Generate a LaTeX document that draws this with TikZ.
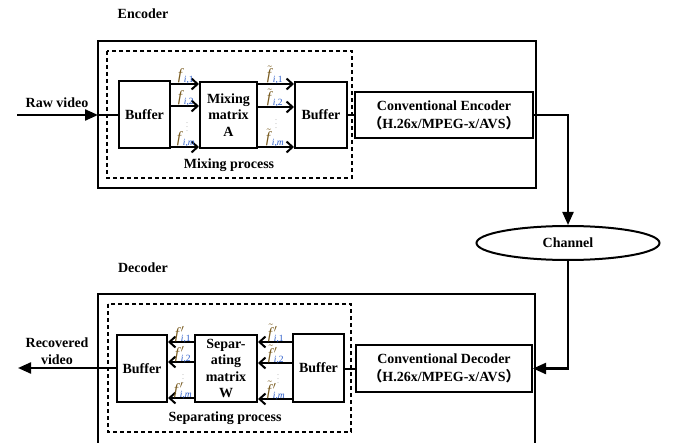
\documentclass[tikz,border=0pt]{standalone}
\usepackage{fontspec}
\setmainfont{Liberation Serif}
\newfontfamily\cjk{Noto Sans CJK SC}
\usetikzlibrary{arrows.meta,shapes.geometric,calc}
\definecolor{fcol}{RGB}{120,90,30}
\definecolor{scol}{RGB}{40,90,200}
\newcommand{\fsub}[1]{{\color{scol}\mbox{\fontsize{9.5}{9.5}\selectfont\textit{i},#1}}}
\newcommand{\ff}{{\color{fcol}\mbox{\textit{f}}}}
\newcommand{\fft}{{\color{fcol}\tilde{\mbox{\textit{f}}}}}
\newcommand{\pr}{{\color{fcol}\prime}}
\begin{document}
\begin{tikzpicture}[x=1pt,y=-1pt,line width=2pt,
  box/.style={draw,line width=2pt,align=center,inner sep=0pt,
    font=\bfseries\fontsize{14}{16.5}\selectfont},
  conv/.style={box,font=\bfseries\fontsize{14}{18}\selectfont},
  lbl/.style={font=\fontsize{15.5}{17}\selectfont,inner sep=0pt,anchor=base},
  txt/.style={font=\bfseries\fontsize{14}{17}\selectfont,inner sep=0pt,align=center},
  dts/.style={inner sep=0pt,text=gray!70,font=\fontsize{8}{8}\selectfont},
  sarr/.style={-{Straight Barb[length=6pt,width=11pt]},line width=2pt},
  barr/.style={-{Triangle[length=13pt,width=11pt]},line width=2.2pt},
  frame/.style={draw,line width=2pt},
  dframe/.style={draw,line width=2pt,dash pattern=on 4pt off 3pt}]
\useasboundingbox (0,0) rectangle (684,443);

% frames
\draw[frame] (98,41) rectangle (536,188);
\draw[dframe] (107,51) rectangle (352,178);
\draw[frame] (98,444) -- (98,294) -- (535,294) -- (535,444);
\draw[dframe] (108,304) rectangle (351,432);

% titles
\node[txt] (enct) at (143,14) {Encoder};
\node[txt] (dect) at (143,268) {Decoder};
\node[txt] (rawt) at (57,103) {Raw video};
\node[txt] (rect) at (57,351) {Recovered\\video};
\node[txt] (mixt) at (229,165) {Mixing process};
\node[txt] (sept) at (225,418) {Separating process};

% encoder nodes
\node[box,minimum width=51pt,minimum height=67pt] (buf1) at (144.5,114.5) {Buffer};
\node[box,minimum width=57pt,minimum height=66pt] (mix) at (228.5,115) {Mixing\\matrix\\A};
\node[box,minimum width=52pt,minimum height=66pt] (buf2) at (321,115) {Buffer};
\node[conv,minimum width=178pt,minimum height=46pt] (conve) at (444,115)
  {Conventional Encoder\\{\cjk （}H.26x/MPEG-x/AVS{\cjk ）}};
\node[draw,ellipse,line width=2pt,minimum width=183pt,minimum height=34pt,inner sep=0pt,
  font=\bfseries\fontsize{14}{16}\selectfont] (chan) at (568,243) {Channel};

% decoder nodes
\node[box,minimum width=50pt,minimum height=67pt] (bufL) at (142,368.5) {Buffer};
\node[box,minimum width=62pt,minimum height=67pt] (sep) at (226,368.5) {Separ-\\ating\\matrix\\W};
\node[box,minimum width=51pt,minimum height=68pt] (bufR) at (318.5,368) {Buffer};
\node[conv,minimum width=176pt,minimum height=47pt] (convd) at (444,368.5)
  {Conventional Decoder\\{\cjk （}H.26x/MPEG-x/AVS{\cjk ）}};

% main flow
\coordinate (rawin) at (17,115);
\coordinate (encin) at (98,115);
\draw[barr] (rawin) -- (encin);
\draw (encin) -- (buf1.west |- encin);
\draw (buf2.east) -- (conve.west);
\draw[barr] (conve.east) -| (chan.north);
\draw[barr] (chan.south) |- (convd.east);
\draw (convd.west) -- (bufR.east |- convd.west);
\coordinate (recout) at (18,368);
\draw[barr] (bufL.west |- recout) -- (recout);

% encoder small arrows
\foreach \yy in {84,106,147} \draw[sarr] (buf1.east |- 0,\yy) -- (mix.west |- 0,\yy);
\foreach \yy in {84,107,147} \draw[sarr] (mix.east |- 0,\yy) -- (buf2.west |- 0,\yy);
% decoder small arrows
\foreach \yy in {342,362,398} \draw[sarr] (sep.west |- 0,\yy) -- (bufL.east |- 0,\yy);
\foreach \yy in {342,363,399} \draw[sarr] (bufR.west |- 0,\yy) -- (sep.east |- 0,\yy);

% labels encoder
\node[lbl] (a1) at (186,80) {$\ff_{\fsub{1}}$};
\node[lbl] (a2) at (186,102) {$\ff_{\fsub{2}}$};
\node[lbl] (am) at (186,143) {$\ff_{\fsub{\textit{m}}}$};
\node[dts] (ad) at (187,124) {$\vdots$};
\node[lbl] (b1) at (275,80) {$\fft_{\fsub{1}}$};
\node[lbl] (b2) at (275,103) {$\fft_{\fsub{2}}$};
\node[lbl] (bm) at (275,143) {$\fft_{\fsub{\textit{m}}}$};
\node[dts] (bd) at (276,121) {$\vdots$};
% labels decoder
\node[lbl] (c1) at (183,338) {$\ff^{\pr}_{\fsub{1}}$};
\node[lbl] (c2) at (183,358) {$\ff^{\pr}_{\fsub{2}}$};
\node[lbl] (cm) at (183,394) {$\ff^{\pr}_{\fsub{\textit{m}}}$};
\node[dts] (cd) at (183,376) {$\vdots$};
\node[lbl] (d1) at (276,338) {$\fft^{\pr}_{\fsub{1}}$};
\node[lbl] (d2) at (276,359) {$\fft^{\pr}_{\fsub{2}}$};
\node[lbl] (dm) at (276,395) {$\fft^{\pr}_{\fsub{\textit{m}}}$};
\node[dts] (dd) at (278,376) {$\vdots$};
\end{tikzpicture}
\end{document}
